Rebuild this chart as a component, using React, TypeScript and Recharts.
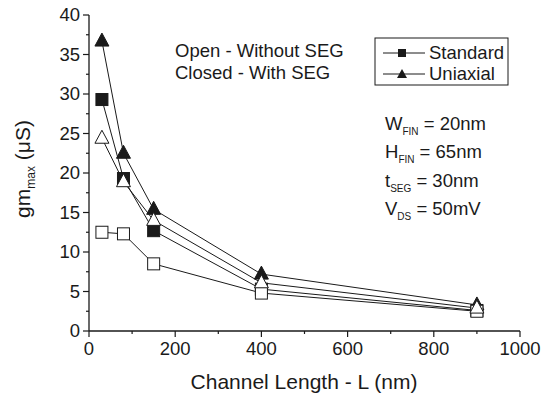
import React from "react";
import { LineChart, Line, XAxis, YAxis } from "recharts";

// channel length L (nm)
const lengths = [30, 80, 150, 400, 900];
// gm_max (uS)
const standardSeg = [29.3, 19.3, 12.7, 5.3, 2.6];
const uniaxialSeg = [36.7, 22.5, 15.4, 7.2, 3.3];
const standardNoSeg = [12.5, 12.3, 8.5, 4.8, 2.5];
const uniaxialNoSeg = [24.4, 18.9, 14.0, 6.1, 2.9];

const xTicks = [0, 100, 200, 300, 400, 500, 600, 700, 800, 900, 1000];
const xLabels = [0, 200, 400, 600, 800, 1000];
const yTicks = [0, 2.5, 5, 7.5, 10, 12.5, 15, 17.5, 20, 22.5, 25, 27.5, 30, 32.5, 35, 37.5, 40];
const yLabels = [0, 5, 10, 15, 20, 25, 30, 35, 40];

const FONT = "'Liberation Sans', Arial, Helvetica, sans-serif";
const INK = "#1a1a1a";

const toRows = (ys: number[]) => lengths.map((x, i) => ({ x, y: ys[i] }));

const Marker = ({ cx, cy, shape, filled }: any) => {
  if (cx == null || cy == null) return null;
  const fill = filled ? INK : "#fff";
  if (shape === "square") {
    return <rect x={cx - 6} y={cy - 6} width={12} height={12} fill={fill} stroke={INK} strokeWidth={1} />;
  }
  return (
    <path
      d={`M${cx},${cy - 8}L${cx + 7},${cy + 5}L${cx - 7},${cy + 5}Z`}
      fill={fill}
      stroke={INK}
      strokeWidth={1}
    />
  );
};

const dotFor = (shape: string, filled: boolean) => (p: any) =>
  <Marker key={`${shape}-${filled}-${p.index}`} cx={p.cx} cy={p.cy} shape={shape} filled={filled} />;

// tick drawers: tickSize=0 so (x, y) sits on the axis line
const BottomTick = ({ x, y, payload }: any) => {
  const major = xLabels.includes(payload.value);
  return (
    <g>
      <line x1={x} x2={x} y1={y} y2={y + (major ? 6 : 3)} stroke={INK} strokeWidth={1.2} />
      {major && (
        <text x={x} y={y + 24} textAnchor="middle" fontSize={18.5} fontFamily={FONT} fill={INK}>
          {payload.value}
        </text>
      )}
    </g>
  );
};

const TopTick = ({ x, y, payload }: any) => {
  const major = xLabels.includes(payload.value);
  return <line x1={x} x2={x} y1={y} y2={y + (major ? 6 : 3)} stroke={INK} strokeWidth={1.2} />;
};

const LeftTick = ({ x, y, payload }: any) => {
  const major = yLabels.includes(payload.value);
  return (
    <g>
      <line x1={x} x2={x - (major ? 6 : 3)} y1={y} y2={y} stroke={INK} strokeWidth={1.2} />
      {major && (
        <text x={x - 9} y={y} dy="0.35em" textAnchor="end" fontSize={18.5} fontFamily={FONT} fill={INK}>
          {payload.value}
        </text>
      )}
    </g>
  );
};

const RightTick = ({ x, y, payload }: any) => {
  const major = yLabels.includes(payload.value);
  return <line x1={x} x2={x - (major ? 6 : 3)} y1={y} y2={y} stroke={INK} strokeWidth={1.2} />;
};

const axisLine = { stroke: INK, strokeWidth: 1.3 };

const Sub = ({ main, sub, rest, x, y }: any) => (
  <text x={x} y={y} fontSize={18.5} fontFamily={FONT} fill={INK}>
    {main}
    <tspan fontSize={10} dy={5}>{sub}</tspan>
    <tspan dy={-5}>{rest}</tspan>
  </text>
);

export default function App() {
  return (
    <div style={{ position: "absolute", left: 0, top: 0, width: 548, height: 399, background: "#fff" }}>
      <LineChart width={548} height={399} margin={{ top: 15, right: 28, left: 0, bottom: 0 }}>
        <XAxis
          xAxisId="b"
          dataKey="x"
          type="number"
          domain={[0, 1000]}
          ticks={xTicks}
          interval={0}
          height={68}
          tickSize={0}
          tickMargin={0}
          tickLine={false}
          axisLine={axisLine}
          tick={<BottomTick />}
        />
        <XAxis
          xAxisId="t"
          orientation="top"
          dataKey="x"
          type="number"
          domain={[0, 1000]}
          ticks={xTicks}
          interval={0}
          height={0}
          tickSize={0}
          tickMargin={0}
          tickLine={false}
          axisLine={axisLine}
          tick={<TopTick />}
        />
        <YAxis
          yAxisId="l"
          type="number"
          domain={[0, 40]}
          ticks={yTicks}
          interval={0}
          width={89}
          tickSize={0}
          tickMargin={0}
          tickLine={false}
          axisLine={axisLine}
          tick={<LeftTick />}
        />
        <YAxis
          yAxisId="r"
          orientation="right"
          type="number"
          domain={[0, 40]}
          ticks={yTicks}
          interval={0}
          width={0}
          tickSize={0}
          tickMargin={0}
          tickLine={false}
          axisLine={axisLine}
          tick={<RightTick />}
        />
        <Line xAxisId="b" yAxisId="l" data={toRows(standardSeg)} dataKey="y" stroke={INK} strokeWidth={1} dot={dotFor("square", true)} isAnimationActive={false} />
        <Line xAxisId="b" yAxisId="l" data={toRows(uniaxialSeg)} dataKey="y" stroke={INK} strokeWidth={1} dot={dotFor("triangle", true)} isAnimationActive={false} />
        <Line xAxisId="b" yAxisId="l" data={toRows(standardNoSeg)} dataKey="y" stroke={INK} strokeWidth={1} dot={dotFor("square", false)} isAnimationActive={false} />
        <Line xAxisId="b" yAxisId="l" data={toRows(uniaxialNoSeg)} dataKey="y" stroke={INK} strokeWidth={1} dot={dotFor("triangle", false)} isAnimationActive={false} />
      </LineChart>

      {/* annotations, legend and axis titles */}
      <svg width={548} height={399} style={{ position: "absolute", left: 0, top: 0, pointerEvents: "none" }}>
        <text x={175} y={57} fontSize={18.5} fontFamily={FONT} fill={INK}>Open - Without SEG</text>
        <text x={175} y={79} fontSize={18.5} fontFamily={FONT} fill={INK}>Closed - With SEG</text>

        <rect x={375} y={38} width={133} height={47} fill="#fff" stroke={INK} strokeWidth={1} />
        <line x1={383} x2={425} y1={53} y2={53} stroke={INK} strokeWidth={1} />
        <rect x={398} y={49} width={8} height={8} fill={INK} />
        <text x={429} y={59} fontSize={18.5} fontFamily={FONT} fill={INK}>Standard</text>
        <line x1={383} x2={425} y1={74} y2={74} stroke={INK} strokeWidth={1} />
        <path d="M402,69L407,78L397,78Z" fill={INK} />
        <text x={429} y={80} fontSize={18.5} fontFamily={FONT} fill={INK}>Uniaxial</text>

        <Sub x={385} y={130} main="W" sub="FIN" rest=" = 20nm" />
        <Sub x={385} y={158} main="H" sub="FIN" rest=" = 65nm" />
        <Sub x={385} y={187} main="t" sub="SEG" rest=" = 30nm" />
        <Sub x={385} y={215} main="V" sub="DS" rest=" = 50mV" />

        <text
          x={30}
          y={169}
          transform="rotate(-90, 30, 169)"
          textAnchor="middle"
          fontSize={21}
          fontFamily={FONT}
          fill={INK}
        >
          gm<tspan fontSize={12} dy={5}>max</tspan>
          <tspan dy={-5}> (μS)</tspan>
        </text>

        <text x={304} y={389} textAnchor="middle" fontSize={21} fontFamily={FONT} fill={INK}>
          Channel Length - L (nm)
        </text>
      </svg>
    </div>
  );
}
